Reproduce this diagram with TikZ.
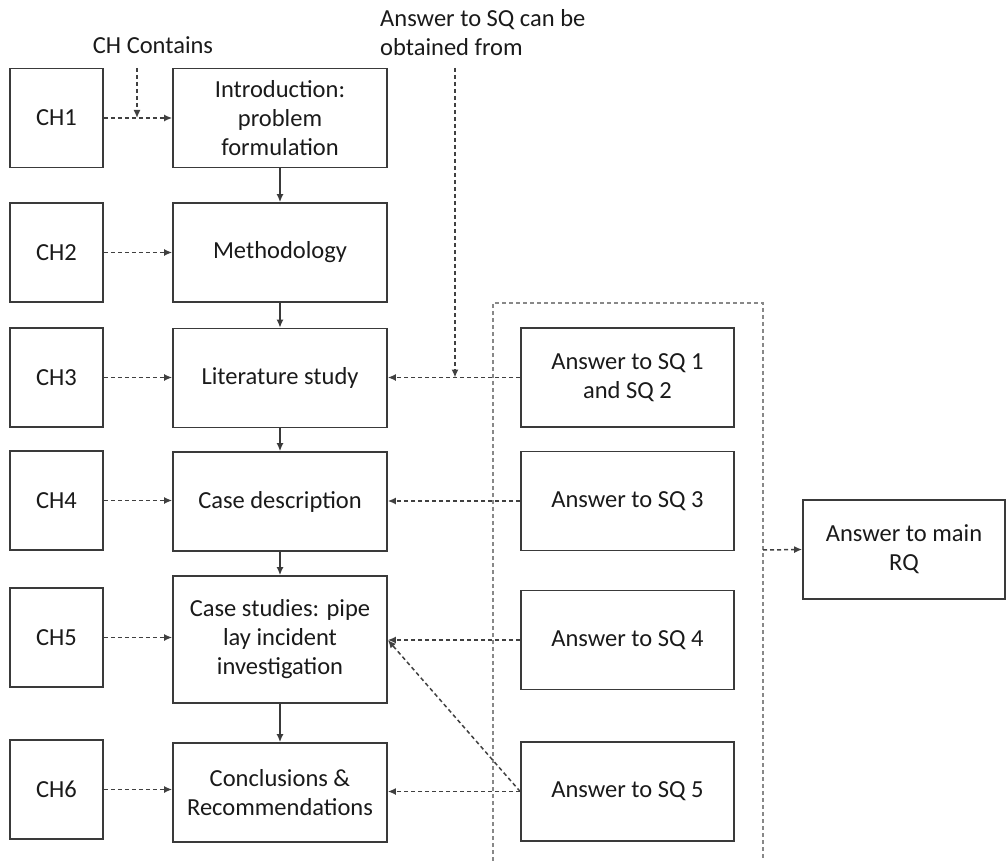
\documentclass[tikz,border=0pt]{standalone}
\usepackage{fontspec}
\setmainfont{Carlito}
\usetikzlibrary{arrows.meta}
\definecolor{boxline}{HTML}{3A3A3A}
\definecolor{conn}{HTML}{404040}
\definecolor{frame}{HTML}{888888}
\definecolor{txt}{HTML}{1A1A1A}
\begin{document}
\begin{tikzpicture}[x=1pt,y=-1pt,
  font=\fontsize{24.5}{29}\selectfont, text=txt,
  chbox/.style={draw=boxline, line width=1.7pt, minimum width=93pt, minimum height=99pt, inner sep=0pt},
  mainbox/.style={draw=boxline, line width=1.7pt, minimum width=214pt, minimum height=99pt, inner sep=0pt, align=center},
  ansbox/.style={draw=boxline, line width=1.7pt, minimum width=213pt, minimum height=99pt, inner sep=0pt, align=center},
  flow/.style={draw=boxline, line width=1.5pt, -{Latex[length=8pt,width=7pt]}},
  link/.style={draw=conn, line width=1.5pt, dash pattern=on 4pt off 3pt, -{Latex[length=8pt,width=7pt]}},
  framed/.style={draw=frame, line width=1.6pt, dash pattern=on 4pt off 3pt}]
\useasboundingbox (0,0) rectangle (1007,861);

% chapter boxes
\node[chbox] (ch1) at (56.5,118) {CH1};
\node[chbox] (ch2) at (56.5,252.5) {CH2};
\node[chbox] (ch3) at (56.5,377.5) {CH3};
\node[chbox] (ch4) at (56.5,500.5) {CH4};
\node[chbox] (ch5) at (56.5,637.5) {CH5};
\node[chbox] (ch6) at (56.5,789.5) {CH6};

% chapter contents
\node[mainbox] (intro) at (280,118) {Introduction:\\problem\\formulation};
\node[mainbox] (meth) at (280,252.5) {Methodology};
\node[mainbox] (lit) at (280,378) {Literature study};
\node[mainbox] (desc) at (280,501.5) {Case description};
\node[mainbox, minimum height=127pt] (cs) at (280,639.5) {Case studies: pipe\\lay incident\\investigation};
\node[mainbox] (concl) at (280,792.5) {Conclusions \&\\Recommendations};

% sub-question answers
\node[ansbox] (sq1) at (627.5,377.5) {Answer to SQ 1\\and SQ 2};
\node[ansbox] (sq3) at (627.5,501) {Answer to SQ 3};
\node[ansbox] (sq4) at (627.5,640) {Answer to SQ 4};
\node[ansbox] (sq5) at (627.5,791.5) {Answer to SQ 5};

% main research question
\node[draw=boxline, line width=1.7pt, minimum width=202pt, minimum height=99pt, inner sep=0pt, align=center] (rq) at (904,549.5) {Answer to main\\RQ};

% group frame around the answers (open at the bottom)
\draw[framed] (493,861) -- (493,303) -- (763,303) -- (763,861);
\coordinate (frameout) at (763,550);

% annotations
\node (chc) at (153,45) {CH Contains};
\node[anchor=west, align=left, inner sep=0pt] (sqnote) at (380,33) {Answer to SQ can be\\obtained from};
\coordinate (chcstart) at (137,68);
\coordinate (sqnotestart) at (455,68);

% main flow
\draw[flow] (intro) -- (meth);
\draw[flow] (meth) -- (lit);
\draw[flow] (lit) -- (desc);
\draw[flow] (desc) -- (cs);
\draw[flow] (cs) -- (concl);

% chapter links
\draw[link] (ch1.east) -- (ch1.east -| intro.west);
\draw[link] (ch2.east) -- (ch2.east -| meth.west);
\draw[link] (ch3.east) -- (ch3.east -| lit.west);
\draw[link] (ch4.east) -- (ch4.east -| desc.west);
\draw[link] (ch5.east) -- (ch5.east -| cs.west);
\draw[link] (ch6.east) -- (ch6.east -| concl.west);
\draw[link] (chcstart) -- (chcstart |- ch1.east);

% answer links
\draw[link] (sq1.west) -- (sq1.west -| lit.east);
\draw[link] (sqnotestart) -- (sqnotestart |- sq1.west);
\draw[link] (sq3.west) -- (sq3.west -| desc.east);
\draw[link] (sq4.west) -- (sq4.west -| cs.east);
\draw[link] (sq5.west) -- (sq4.west -| cs.east);
\draw[link] (sq5.west) -- (sq5.west -| concl.east);
\draw[link] (frameout) -- (rq.west);
\end{tikzpicture}
\end{document}
